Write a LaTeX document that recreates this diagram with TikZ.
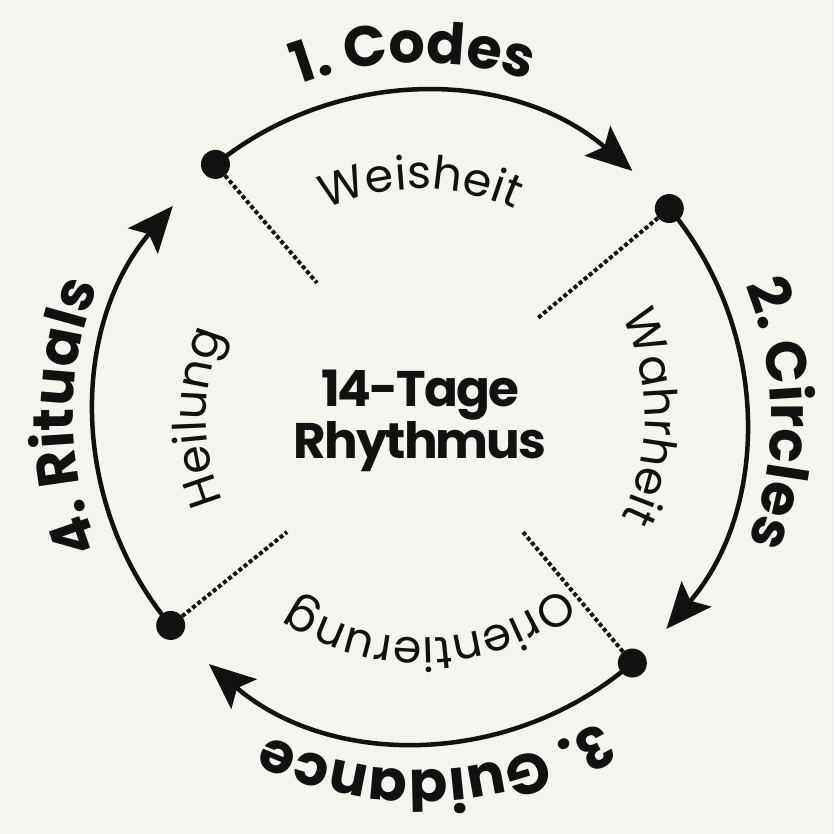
\documentclass[tikz,border=0pt]{standalone}
\usepackage{fontspec}
\newfontfamily\popfont{Poppins}
\newfontfamily\poptight{Poppins}[LetterSpace=-4]
\usetikzlibrary{decorations.text,arrows.meta}
\definecolor{bg}{HTML}{F5F4EF}
\definecolor{ink}{HTML}{111111}
\newcommand\outerfnt{\popfont\bfseries\fontsize{57}{57}\selectfont}
\newcommand\innerfnt{\popfont\fontsize{46}{46}\selectfont}
\begin{document}
\begin{tikzpicture}[
  arcline/.style={line width=4.5pt, draw=ink, -{Stealth[length=46pt,width=39pt,inset=9pt]}},
  dotnode/.style={circle, fill=ink, inner sep=0pt, minimum size=29pt},
  dotline/.style={draw=ink, line width=4pt, dash pattern=on 4pt off 2.6pt},
  outertext/.style={decorate, decoration={text along path, text align=center, text color=ink, text={|\outerfnt|#1}}},
  innertext/.style={decorate, decoration={text along path, text align=center, text color=ink, text={|\innerfnt|#1}}}
]
\fill[bg] (0pt,0pt) rectangle (834pt,834pt);
\useasboundingbox (0pt,0pt) rectangle (834pt,834pt);
\coordinate (C) at (420pt,417pt);
% dot centres
\coordinate (p1) at ([shift={(129:325pt)}]C);
\coordinate (p2) at ([shift={(39.9:325pt)}]C);
\coordinate (p3) at ([shift={(-49.2:325pt)}]C);
\coordinate (p4) at ([shift={(219.9:325pt)}]C);
% dotted line ends
\coordinate (e1) at (317pt,551pt);
\coordinate (e2) at (538pt,516pt);
\coordinate (e3) at (523pt,302pt);
\coordinate (e4) at (287pt,302pt);
% arcs
\draw[arcline] (p1) arc[start angle=129, end angle=49.2, radius=325pt];
\draw[arcline] (p2) arc[start angle=39.9, end angle=-40.7, radius=325pt];
\draw[arcline] (p3) arc[start angle=-49.2, end angle=-130.5, radius=325pt];
\draw[arcline] (p4) arc[start angle=219.9, end angle=139.5, radius=325pt];
% dots
\node[dotnode] (d1) at (p1) {};
\node[dotnode] (d2) at (p2) {};
\node[dotnode] (d3) at (p3) {};
\node[dotnode] (d4) at (p4) {};
\draw[dotline] (d1) -- (e1);
\draw[dotline] (d2) -- (e2);
\draw[dotline] (d3) -- (e3);
\draw[dotline] (d4) -- (e4);
% outer labels
\path[outertext={1. Codes}] ([shift={(171:354pt)}]C) arc[start angle=171, end angle=11, radius=354pt];
\path[outertext={2. Circles}] ([shift={(80.5:351pt)}]C) arc[start angle=80.5, end angle=-79.5, radius=351pt];
\path[outertext={3. Guidance}] ([shift={(-7.5:353pt)}]C) arc[start angle=-7.5, end angle=-167.5, radius=353pt];
\path[outertext={4. Rituals}] ([shift={(260:347pt)}]C) arc[start angle=260, end angle=100, radius=347pt];
% inner labels
\path[innertext={Weisheit}] ([shift={(170:228pt)}]C) arc[start angle=170, end angle=10, radius=228pt];
\path[innertext={Wahrheit}] ([shift={(80:225pt)}]C) arc[start angle=80, end angle=-80, radius=225pt];
\path[innertext={Orientierung}] ([shift={(-5:221pt)}]C) arc[start angle=-5, end angle=-170, radius=221pt];
\path[innertext={Heilung}] ([shift={(260:214pt)}]C) arc[start angle=260, end angle=100, radius=214pt];
% centre
\node[font=\poptight\bfseries\fontsize{50}{47}\selectfont, align=center, text=ink, inner sep=0pt] (title) at (420pt,413pt) {14-Tage\\Rhythmus};
\end{tikzpicture}
\end{document}
